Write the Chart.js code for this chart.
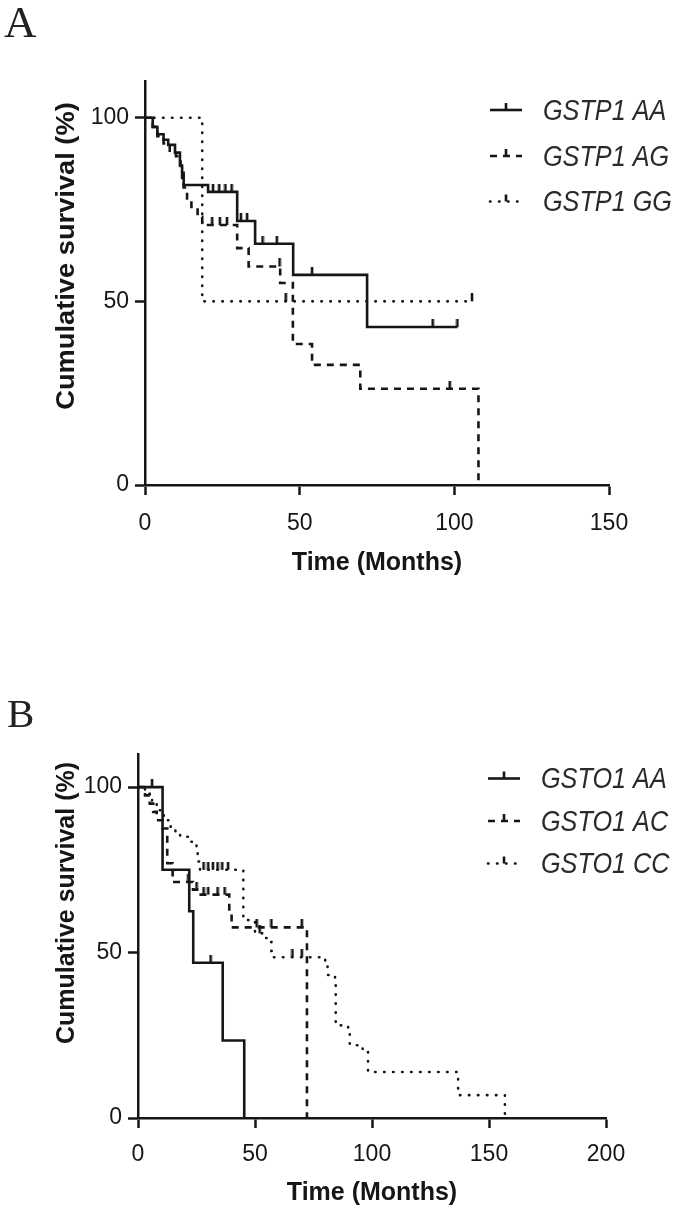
<!DOCTYPE html>
<html>
<head>
<meta charset="utf-8">
<script src="https://cdn.jsdelivr.net/npm/chart.js@4.4.1/dist/chart.umd.min.js"></script>
<style>
  html, body { margin: 0; padding: 0; background: #fff; }
  .page { position: relative; width: 675px; height: 1207px; overflow: hidden; }
  .panel { position: absolute; left: 0; width: 675px; }
  #panelA { top: 0; height: 600px; }
  #panelB { top: 600px; height: 607px; }
  .letter { position: absolute; font-family: 'Liberation Serif', 'DejaVu Serif', serif; line-height: 1; color: #222; }
</style>
</head>
<body>
<div class="page">
  <div class="panel" id="panelA"><canvas id="chartA" width="675" height="600"></canvas></div>
  <div class="panel" id="panelB"><canvas id="chartB" width="675" height="607"></canvas></div>
  <div class="letter" style="left:4px;top:0px;font-size:45px;">A</div>
  <div class="letter" style="left:7px;top:693px;font-size:41px;">B</div>
</div>
<script>
// ---- panel A: GSTP1 ----
const gstp1Labels = ['GSTP1 AA', 'GSTP1 AG', 'GSTP1 GG'];
const gstp1AaMonths = [0, 2.5, 4, 6, 7.5, 9.7, 11.3, 12, 12.5, 20.4, 29.8, 35.6, 47.9, 71.8, 101];
const gstp1AaSurvival = [100, 97.5, 95.5, 94, 92.6, 90.5, 87, 83.6, 81.7, 79.8, 71.9, 65.7, 57.2, 43, 43];
const gstp1AaCensored = [22, 24, 26, 28, 31, 33, 38, 42.6, 54, 93, 101];
const gstp1AgMonths = [0, 2.5, 4, 6, 8, 10, 11.5, 12.5, 13.6, 15, 17, 18.5, 29.8, 33.5, 43.7, 47.8, 54, 69.6, 107.8];
const gstp1AgSurvival = [100, 97.5, 95, 93, 91, 89.5, 85, 81, 78, 75.7, 73, 70.8, 64.5, 59.5, 55, 38.4, 32.7, 26.2, 0];
const gstp1AgCensored = [21.7, 24.2, 26.5, 43.5, 98.5];
const gstp1GgMonths = [0, 18.5, 105.7];
const gstp1GgSurvival = [100, 50, 50];
const gstp1GgCensored = [45.5, 105.7];

// ---- panel B: GSTO1 ----
const gsto1Labels = ['GSTO1 AA', 'GSTO1 AC', 'GSTO1 CC'];
const gsto1AaMonths = [0, 10.5, 21.9, 23.6, 36.2, 45.4];
const gsto1AaSurvival = [100, 75, 62.5, 46.9, 23.4, 0];
const gsto1AaCensored = [6, 31];
const gsto1AcMonths = [0, 3, 5, 6.5, 8, 10.5, 12.5, 14.8, 23.5, 26, 39, 40, 72.2];
const gsto1AcSurvival = [100, 97.5, 95, 92.5, 90, 87.5, 77, 71.3, 69, 67.5, 62, 57.6, 0];
const gsto1AcCensored = [21.5, 25, 28, 30, 34, 37, 50.7, 57, 70];
const gsto1CcMonths = [0, 3, 6, 8, 11, 14, 16, 18, 22, 25, 25.5, 26.5, 45, 50, 53, 56.4, 57, 57.7, 80, 81, 84.2, 84.5, 89.8, 90.5, 96, 98.3, 136.8, 156.8];
const gsto1CcSurvival = [100, 98, 95.5, 93, 90, 88, 86.5, 85, 83.5, 81, 77.5, 75, 59.8, 55.8, 54.4, 53.2, 50.5, 48.6, 46.4, 43.2, 40.2, 28, 25.7, 22, 20.5, 13.9, 6.9, 0];
const gsto1CcCensored = [28, 30, 32, 34, 36, 38.5, 52, 66, 70];

const xTicksA = [0, 50, 100, 150];
const xTicksB = [0, 50, 100, 150, 200];
const yTicks = [0, 50, 100];

const ink = '#161616';
const sans = '"Liberation Sans", Arial, sans-serif';
const lineStyles = [
  { dash: [], cap: 'butt' },
  { dash: [7, 6], cap: 'butt' },
  { dash: [0.5, 8.5], cap: 'round' },
];

// small upward tick used for censored cases
const censorMark = (() => {
  const c = document.createElement('canvas');
  c.width = 4;
  c.height = 16;
  const g = c.getContext('2d');
  g.fillStyle = ink;
  g.fillRect(0.7, 0, 2.6, 8);
  return c;
})();

function survivalAt(months, survival, t) {
  let s = survival[0];
  months.forEach((m, i) => {
    if (m <= t) s = survival[i];
  });
  return s;
}

function buildDatasets(groups) {
  const sets = [];
  groups.forEach((g, i) => {
    const style = lineStyles[i];
    sets.push({
      label: g.label,
      data: g.months.map((m, k) => ({ x: m, y: g.survival[k] })),
      stepped: true,
      borderColor: ink,
      borderWidth: 2.6,
      borderDash: style.dash,
      borderCapStyle: style.cap,
      pointRadius: 0,
      fill: false,
    });
    sets.push({
      label: g.label + ' censored',
      data: g.censored.map((m) => ({ x: m, y: survivalAt(g.months, g.survival, m) })),
      showLine: false,
      pointStyle: censorMark,
      pointRadius: 3,
    });
  });
  return sets;
}

// y title + legend drawn by hand so they sit where the original has them
function makeDecor(cfg) {
  return {
    id: 'kmDecor',
    afterDraw(chart) {
      const { ctx } = chart;
      ctx.save();
      ctx.translate(cfg.yTitleX, cfg.yTitleY);
      ctx.rotate(-Math.PI / 2);
      ctx.scale(cfg.yTitleStretch, 1);
      ctx.font = 'bold 25px ' + sans;
      ctx.fillStyle = ink;
      ctx.textAlign = 'center';
      ctx.textBaseline = 'middle';
      ctx.fillText('Cumulative survival (%)', 0, 0);
      ctx.restore();

      cfg.labels.forEach((label, i) => {
        const y = cfg.legendRows[i];
        const style = lineStyles[i];
        ctx.save();
        ctx.strokeStyle = ink;
        ctx.lineWidth = 2.6;
        ctx.setLineDash(style.dash);
        ctx.lineCap = style.cap;
        ctx.beginPath();
        ctx.moveTo(cfg.legendX, y - 1.5);
        ctx.lineTo(cfg.legendX + 32, y - 1.5);
        ctx.stroke();
        ctx.setLineDash([]);
        ctx.lineCap = 'butt';
        ctx.beginPath();
        ctx.moveTo(cfg.legendX + 16, y - 1.5);
        ctx.lineTo(cfg.legendX + 16, y - 8.5);
        ctx.stroke();
        // original uses a condensed italic face, squeeze it a bit
        ctx.translate(cfg.legendX + 53, y);
        ctx.scale(0.87, 1);
        ctx.font = 'italic 29px ' + sans;
        ctx.fillStyle = '#2a2a2a';
        ctx.textAlign = 'left';
        ctx.textBaseline = 'middle';
        ctx.fillText(label, 0, 0);
        ctx.restore();
      });
    },
  };
}

function makeChart(id, groups, opt) {
  const ctx = document.getElementById(id).getContext('2d');
  return new Chart(ctx, {
    type: 'line',
    data: { datasets: buildDatasets(groups) },
    options: {
      responsive: false,
      animation: false,
      events: [],
      layout: { padding: { top: opt.top, right: opt.right, bottom: 0, left: 0 } },
      plugins: { legend: { display: false }, tooltip: { enabled: false } },
      scales: {
        x: {
          type: 'linear',
          min: 0,
          max: opt.xTicks[opt.xTicks.length - 1],
          afterBuildTicks: (axis) => { axis.ticks = opt.xTicks.map((v) => ({ value: v })); },
          afterFit: (axis) => { axis.height = opt.xHeight; },
          grid: { drawOnChartArea: false, drawTicks: true, tickLength: 10, tickWidth: 2.5, tickColor: ink },
          border: { display: true, color: ink, width: 2.5 },
          ticks: { color: ink, padding: opt.xPad, font: { family: sans, size: 23 } },
          title: {
            display: true,
            text: 'Time (Months)',
            color: ink,
            font: { family: sans, size: 25, weight: 'bold', lineHeight: 1 },
            padding: { top: 0, bottom: opt.titlePad },
          },
        },
        y: {
          min: 0,
          max: 110,
          afterBuildTicks: (axis) => { axis.ticks = yTicks.map((v) => ({ value: v })); },
          afterFit: (axis) => { axis.width = opt.yWidth; },
          grid: { drawOnChartArea: false, drawTicks: true, tickLength: 10, tickWidth: 2.5, tickColor: ink },
          border: { display: true, color: ink, width: 2.5 },
          ticks: { color: ink, padding: 6, font: { family: sans, size: 23 } },
        },
      },
    },
    plugins: [makeDecor(opt.decor)],
  });
}

makeChart('chartA', [
  { label: gstp1Labels[0], months: gstp1AaMonths, survival: gstp1AaSurvival, censored: gstp1AaCensored },
  { label: gstp1Labels[1], months: gstp1AgMonths, survival: gstp1AgSurvival, censored: gstp1AgCensored },
  { label: gstp1Labels[2], months: gstp1GgMonths, survival: gstp1GgSurvival, censored: gstp1GgCensored },
], {
  xTicks: xTicksA, top: 81, right: 66, xHeight: 115, yWidth: 145, xPad: 15, titlePad: 24,
  decor: {
    labels: gstp1Labels, yTitleX: 67, yTitleY: 256, yTitleStretch: 1.09,
    legendX: 490, legendRows: [111.5, 157.5, 203],
  },
});

makeChart('chartB', [
  { label: gsto1Labels[0], months: gsto1AaMonths, survival: gsto1AaSurvival, censored: gsto1AaCensored },
  { label: gsto1Labels[1], months: gsto1AcMonths, survival: gsto1AcSurvival, censored: gsto1AcCensored },
  { label: gsto1Labels[2], months: gsto1CcMonths, survival: gsto1CcSurvival, censored: gsto1CcCensored },
], {
  xTicks: xTicksB, top: 154, right: 69, xHeight: 89, yWidth: 138, xPad: 13, titlePad: 1,
  decor: {
    labels: gsto1Labels, yTitleX: 67, yTitleY: 303, yTitleStretch: 1,
    legendX: 488, legendRows: [180, 222.5, 265],
  },
});
</script>
</body>
</html>
